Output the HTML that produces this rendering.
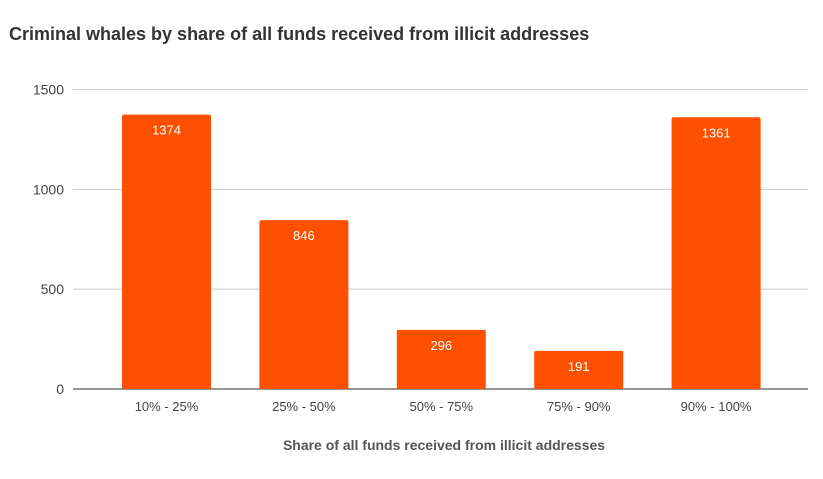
<!DOCTYPE html>
<html><head><meta charset="utf-8"><style>
body{margin:0;background:#fff;width:823px;height:474px;overflow:hidden;font-family:"Liberation Sans",sans-serif}
</style></head><body>
<svg width="823" height="474">
<text x="9" y="40" font-size="18" font-weight="bold" fill="#333">Criminal whales by share of all funds received from illicit addresses</text>
<g id="grid"></g><g id="bars"></g>
<text x="444" y="450" text-anchor="middle" font-size="14" font-weight="bold" fill="#555">Share of all funds received from illicit addresses</text>
</svg>
<script>
const categories=["10% - 25%","25% - 50%","50% - 75%","75% - 90%","90% - 100%"];
const values=[1374,846,296,191,1361];
const yTicks=[0,500,1000,1500];
const ns="http://www.w3.org/2000/svg";
const y0=389,y1=89.5,yMax=1500;
const y=v=>y0-(y0-y1)*v/yMax;
const xStart=97.8,step=137.4,bw=89;
const x=i=>xStart+step*i+step/2;
function mk(t,a,p){const e=document.createElementNS(ns,t);for(const k in a)e.setAttribute(k,a[k]);p.appendChild(e);return e;}
const g=document.getElementById('grid'),b=document.getElementById('bars');
yTicks.forEach(v=>{
 const l=mk('line',{x1:73,x2:808,y1:y(v),y2:y(v),stroke:v===0?'#555':'#ccc','stroke-width':v===0?1.3:1},g);
 
 
 const t=mk('text',{x:64,y:y(v)+5,'text-anchor':'end','font-size':14,fill:'#444'},g);
 t.textContent=v;
 
 
});
values.forEach((v,i)=>{
 const r=mk('rect',{x:x(i)-bw/2,y:y(v),width:bw,height:y0-y(v),fill:'#ff5000',rx:2},b);
 
 
 const t=mk('text',{x:x(i),y:y(v)+20,'text-anchor':'middle','font-size':13,fill:'#fff'},b);
 t.textContent=v;
 
 
 const c=mk('text',{x:x(i),y:411,'text-anchor':'middle','font-size':13,fill:'#444'},b);
 c.textContent=categories[i];
 
 
});
</script>
</body></html>
